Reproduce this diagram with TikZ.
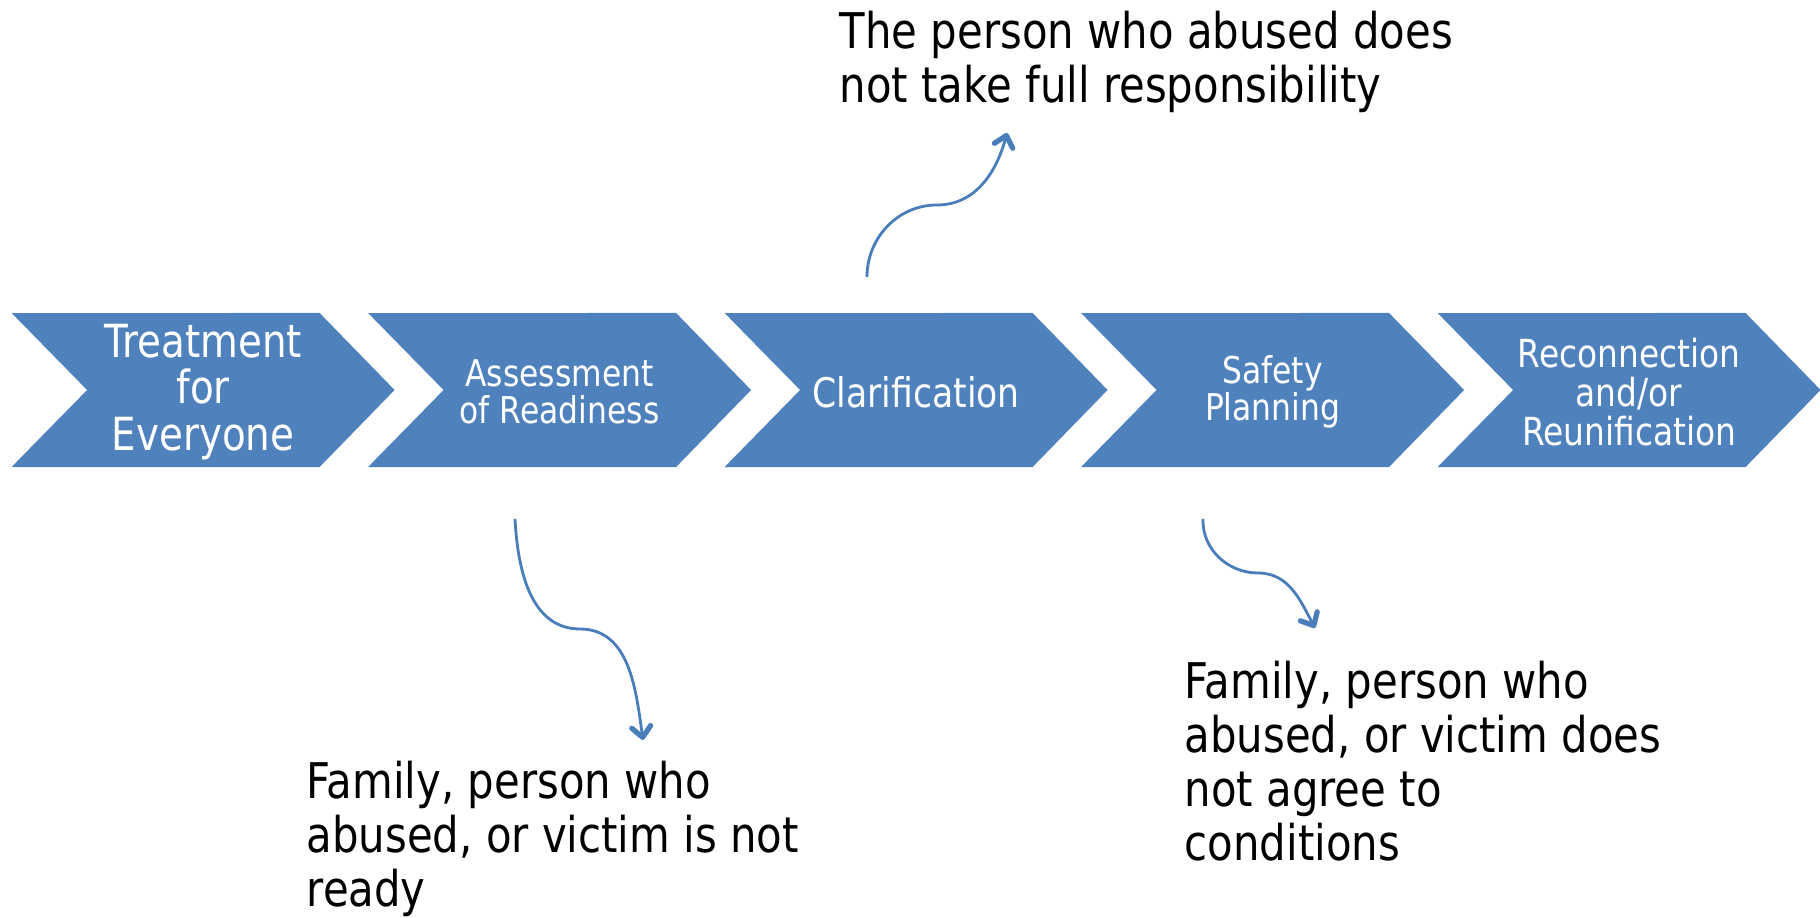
\documentclass[tikz,border=0pt]{standalone}
\usepackage{fontspec}
\setmainfont{DejaVu Sans}[FakeStretch=0.85]
\usepackage{xcolor}
\definecolor{Office Blue}{HTML}{4F81BD}
\definecolor{Line Blue}{HTML}{4A7EBB}
\colorlet{cStep}{Office Blue}
\colorlet{cArrow}{Line Blue}
\usetikzlibrary{calc, arrows.meta, positioning}
\tikzset{
	line width = .75pt,
	>={Straight Barb[length=3pt, width=5.4pt, line width=1.5pt, round]},
	chevron/.style={
		fill=cStep,
		draw=none
	},
	steplabel/.style={
		text=white,
		align=center,
		inner sep=0pt
	},
	note/.style={
		align=left,
		anchor=west,
		inner sep=0pt,
		font=\fontsize{14}{15.4}\selectfont
	},
	swing/.style={
		->,
		draw=cArrow,
		line width=.8pt
	}
}

\begin{document}
\begin{tikzpicture}
		\useasboundingbox (0,0) rectangle (18.2,9.17);
% ---
% chevrons
% ---
\foreach \i/\fs/\ls/\txt in {0/13/13.2/{Treatment\\for\\Everyone},
	1/10.5/10.6/{Assessment\\of Readiness},
	2/11.6/11.6/{Clarification},
	3/10.5/10.6/{Safety\\Planning},
	4/11/11.1/{Reconnection\\and/or\\Reunification}}{
	\pgfmathsetmacro{\l}{0.116+3.565*\i}
	\fill[chevron] (\l,4.50) -- ++(3.08,0) -- ++(0.75,0.77) -- ++(-0.75,0.77)
		-- (\l,6.04) -- ++(0.755,-0.77) -- cycle;
	\node[steplabel, font=\fontsize{\fs}{\ls}\selectfont] (step-\i) at (\l+1.915,5.25) {\txt};
}

% ---
% notes
% ---
\node[note] (note-top) at (8.39,8.55) {The person who abused does\\not take full responsibility};
\node[note] (note-left) at (3.06,0.78) {Family, person who\\abused, or victim is not\\ready};
\node[note] (note-right) at (11.84,1.56) {Family, person who\\abused, or victim does\\not agree to\\conditions};

% ---
% swinging arrows
% ---
\coordinate (a1-s) at (5.15,3.98);
\coordinate (a1-m) at (5.80,2.88);
\coordinate (a1-e) at (6.43,1.77);
\coordinate (a2-s) at (12.03,3.98);
\coordinate (a2-m) at (12.58,3.44);
\coordinate (a2-e) at (13.15,2.89);
\coordinate (a3-s) at (8.67,6.40);
\coordinate (a3-m) at (9.37,7.12);
\coordinate (a3-e) at (10.07,7.84);

\draw[swing] (a1-s) to[out=-87, in=180] (a1-m) to[out=0, in=98] (a1-e);
\draw[swing] (a2-s) to[out=-92, in=180] (a2-m) to[out=0, in=118] (a2-e);
\draw[swing] (a3-s) to[out=90, in=180] (a3-m) to[out=0, in=-105] (a3-e);
	\end{tikzpicture}
\end{document}
